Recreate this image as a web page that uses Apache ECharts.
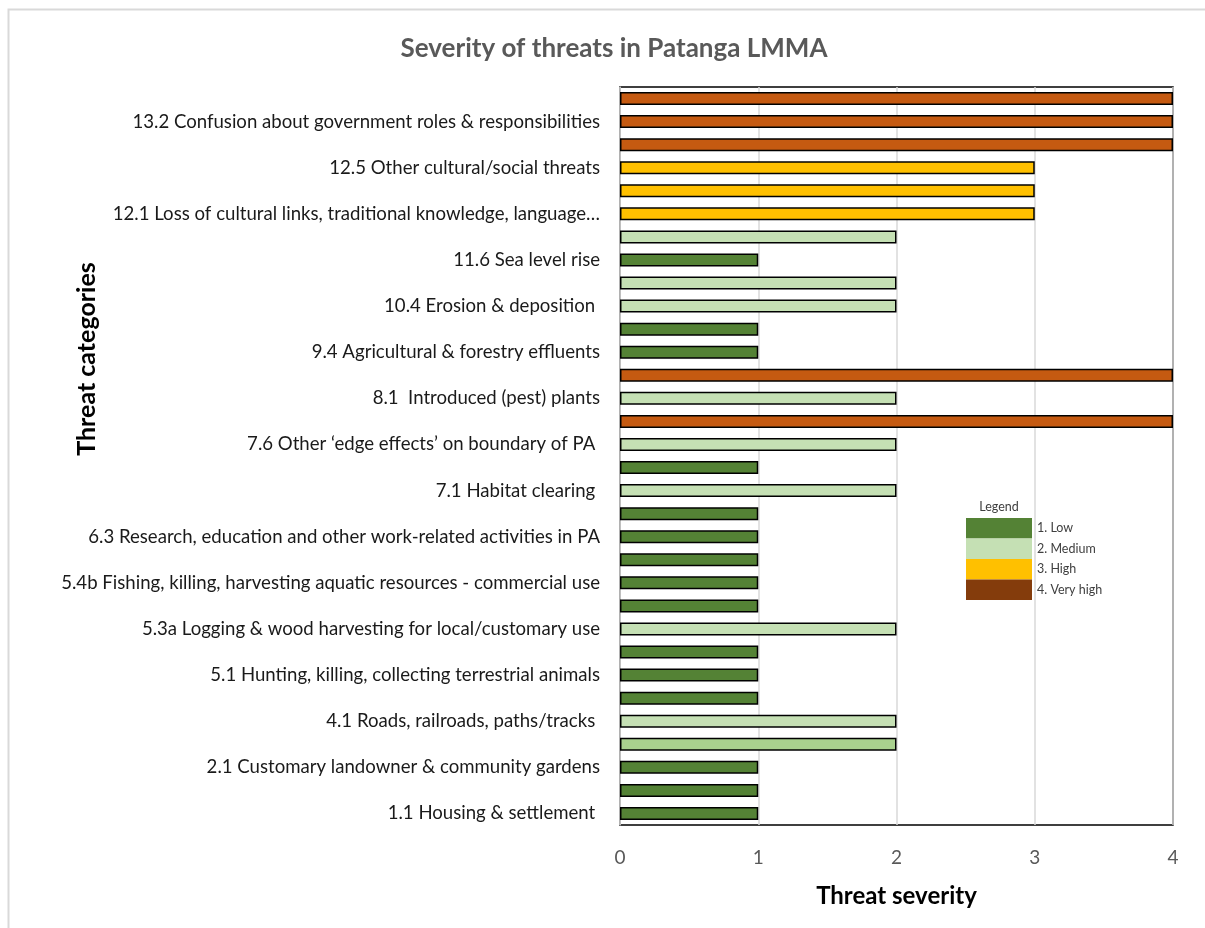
<!DOCTYPE html>
<html>
<head>
<meta charset="utf-8">
<script src="https://cdn.jsdelivr.net/npm/echarts@6/dist/echarts.min.js"></script>
<style>html,body{margin:0;padding:0;background:#fff;}#main{width:1205px;height:928px;}</style>
</head>
<body>
<div id="main"></div>
<script>
// Categories, bottom to top (only every other one is labelled in the chart)
const categories = [
  "1.1 Housing & settlement ",
  "1.3 Tourism & recreation infrastructure",
  "2.1 Customary landowner & community gardens",
  "2.2 Large-scale plantations",
  "4.1 Roads, railroads, paths/tracks ",
  "4.3 Shipping lanes",
  "5.1 Hunting, killing, collecting terrestrial animals",
  "5.2 Gathering terrestrial plants",
  "5.3a Logging & wood harvesting for local/customary use",
  "5.4a Fishing, harvesting aquatic resources - local use",
  "5.4b Fishing, killing, harvesting aquatic resources - commercial use",
  "6.1 Recreational activities",
  "6.3 Research, education and other work-related activities in PA",
  "6.5 Deliberate vandalism",
  "7.1 Habitat clearing ",
  "7.3 Other ecosystem modifications",
  "7.6 Other \u2018edge effects\u2019 on boundary of PA ",
  "7.7 Loss of keystone species",
  "8.1  Introduced (pest) plants",
  "8.2 Introduced (pest) animals",
  "9.4 Agricultural & forestry effluents",
  "9.5 Garbage & solid waste",
  "10.4 Erosion & deposition ",
  "11.1 Habitat shifting & alteration",
  "11.6 Sea level rise",
  "11.7 Other climate change impacts",
  "12.1 Loss of cultural links, traditional knowledge, language\u2026",
  "12.2 Natural deterioration of cultural sites",
  "12.5 Other cultural/social threats",
  "13.1 Inadequate enforcement",
  "13.2 Confusion about government roles & responsibilities",
  "13.3 Land tenure disputes"
];
// Threat severity (1 = Low, 2 = Medium, 3 = High, 4 = Very high), bottom to top
const severity = [1,1,1,2,2,1,1,1,2,1,1,1,1,1,2,1,2,4,2,4,1,1,2,2,1,2,3,3,3,4,4,4];
const levelNames = ["1. Low", "2. Medium", "3. High", "4. Very high"];
const barColors = ["#548235", "#C5E0B4", "#FFC000", "#C55A11"];
const legendColors = ["#548235", "#C5E0B4", "#FFC000", "#843C0C"];
const xTicks = [0, 1, 2, 3, 4];
const titleText = "Severity of threats in Patanga LMMA";

const FONT = "Lato, 'Open Sans', sans-serif";
const chart = echarts.init(document.getElementById('main'), null, {renderer: 'canvas'});

const series = levelNames.map((nm, li) => ({
  name: nm,
  type: 'bar',
  stack: 'sev',
  barWidth: 13,
  itemStyle: {color: legendColors[li], borderColor: '#000', borderWidth: 1.5},
  data: severity.map((v, i) => {
    if (v !== li + 1) return '-';
    let col = barColors[li];
    if (li === 1 && i === 3) col = '#A9D18E';
    return {value: v, itemStyle: {color: col}};
  }),
  emphasis: {disabled: true},
  z: 3
}));

chart.setOption({
  animation: false,
  backgroundColor: '#fff',
  title: {
    text: titleText,
    left: 609, top: 31, textAlign: 'center',
    textStyle: {fontFamily: FONT, fontSize: 26, fontWeight: 'bold', color: '#595959'}
  },
  grid: {left: 620, right: 32, top: 87, bottom: 103, show: true, borderColor: '#000', borderWidth: 1.5, backgroundColor: 'transparent'},
  legend: {
    orient: 'vertical',
    left: 961, top: 513,
    itemWidth: 66, itemHeight: 20.5, itemGap: 0,
    selectedMode: false,
    textStyle: {fontFamily: FONT, fontSize: 12.5, color: '#404040', padding: [0,0,0,0]},
    data: levelNames.map((n, i) => ({name: n, icon: 'rect', itemStyle: {color: legendColors[i], borderWidth: 0}}))
  },
  xAxis: {
    type: 'value', min: 0, max: 4, interval: 1,
    axisLine: {show: false}, axisTick: {show: false},
    splitLine: {show: true, lineStyle: {color: '#D9D9D9', width: 1.5}},
    axisLabel: {fontFamily: FONT, fontSize: 19, color: '#595959', margin: 23,
      formatter: v => xTicks.includes(v) ? String(v) : ''},
    name: 'Threat severity', nameLocation: 'middle', nameGap: 59,
    nameTextStyle: {fontFamily: FONT, fontSize: 24, fontWeight: 'bold', color: '#000'}
  },
  yAxis: {
    type: 'category', data: categories,
    axisLine: {show: true, lineStyle: {color: '#BFBFBF', width: 1}},
    axisTick: {show: false},
    axisLabel: {interval: 1, fontFamily: FONT, fontSize: 18.6, color: '#1a1a1a', margin: 20}
  },
  graphic: [
    {type: 'rect', left: 6, top: 7, shape: {width: 1210, height: 930}, style: {fill: 'none', stroke: '#D9D9D9', lineWidth: 2}, silent: true, z: -1},
    {type: 'text', x: 87, y: 359, rotation: Math.PI / 2, style: {text: 'Threat categories', fontFamily: FONT, fontSize: 25, fontWeight: 'bold', fill: '#000', align: 'center', verticalAlign: 'middle'}},
    {type: 'text', x: 999, y: 507, style: {text: 'Legend', fontFamily: FONT, fontSize: 12.5, fill: '#404040', align: 'center', verticalAlign: 'middle'}}
  ],
  series: series
});
</script>
</body>
</html>
